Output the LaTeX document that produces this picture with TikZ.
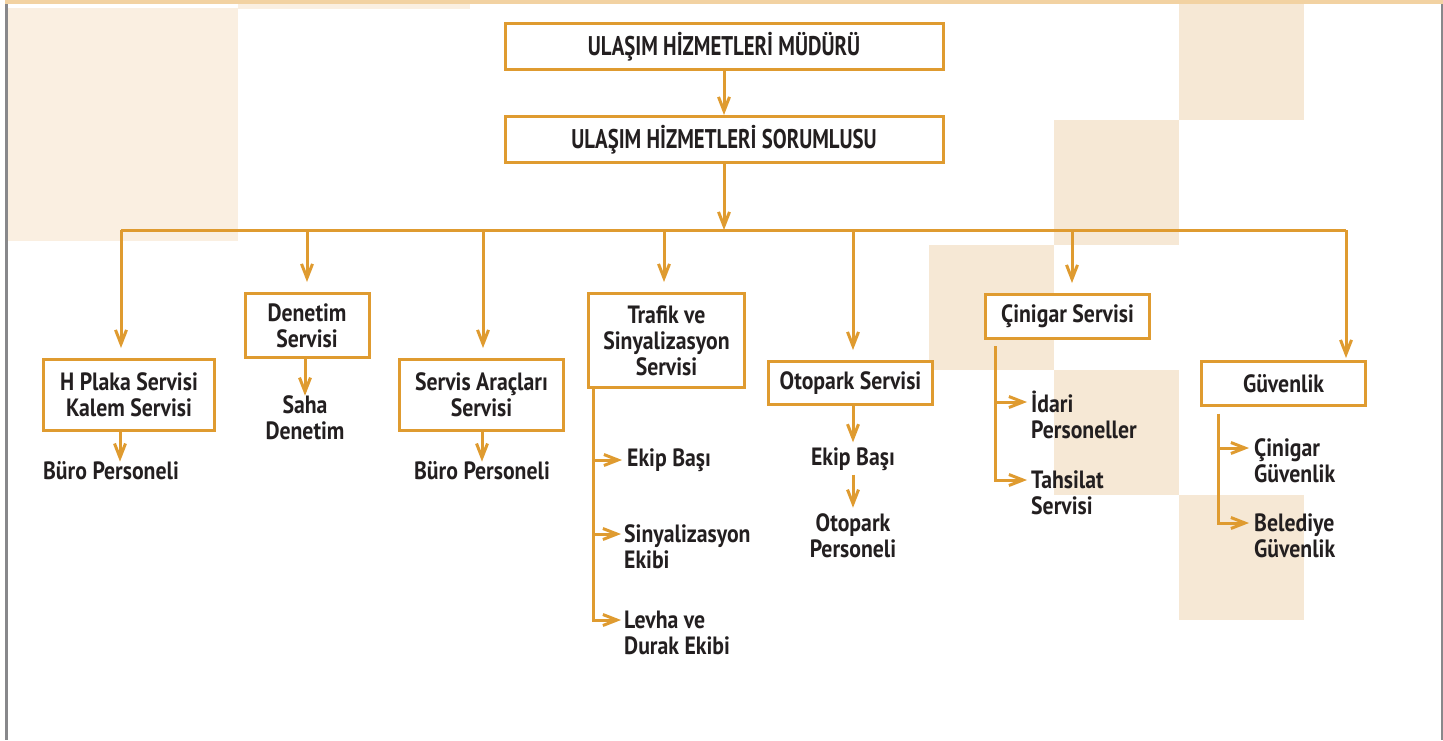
\documentclass[tikz,border=0pt]{standalone}
\usepackage{xcolor}
\usepackage{tikz}
\usepackage{fontspec}
\newfontfamily\ulfont{PT Sans}[FakeStretch=0.87]
\newfontfamily\ulheadfont{PT Sans}[FakeStretch=0.77]
\usetikzlibrary{
  arrows.meta,
  positioning,
  calc
}
\definecolor{ulLine}{HTML}{DF9B30}
\definecolor{ulInk}{HTML}{231F20}
\definecolor{ulTint}{HTML}{F6E8D5}
\definecolor{ulPale}{HTML}{FAEFE1}
\definecolor{ulBar}{HTML}{F2D2A2}
\definecolor{ulFrame}{HTML}{88888B}
\tikzset{
  ulnode/.style={
    draw=ulLine, line width=3pt, fill=white, inner sep=0pt, align=center,
    text=ulInk, font=\ulfont\bfseries\fontsize{25}{26}\selectfont
  },
  ulhead/.style={ulnode, minimum width=438pt, minimum height=46pt,
    font=\ulheadfont\bfseries\fontsize{27}{28}\selectfont},
  ultext/.style={inner sep=0pt, align=center, text=ulInk,
    font=\ulfont\bfseries\fontsize{25}{26}\selectfont},
  ulleft/.style={ultext, align=left, anchor=west},
  ulflow/.style={-{Straight Barb[length=14pt,width=11pt]}, line width=3pt, draw=ulLine},
  ulline/.style={line width=3pt, draw=ulLine},
  ultint/.style={fill=ulTint},
  ulpale/.style={fill=ulPale}
}

\begin{document}
\begin{tikzpicture}[x=1pt, y=-1pt]
  \useasboundingbox (0,0) rectangle (1443,740);
  % background blocks
  \fill[ulpale] (7.5,8) rectangle (238,241);
  \fill[ulpale] (238,4) rectangle (470,9);
  \fill[ultint] (1179,4) rectangle (1304,120);
  \fill[ultint] (1054,120) rectangle (1179,245);
  \fill[ultint] (929,245) rectangle (1054,370);
  \fill[ultint] (1054,370) rectangle (1179,495);
  \fill[ultint] (1179,495) rectangle (1304,620);
  \fill[ulBar] (5,0) rectangle (1443,4);
  \fill[ulFrame] (5,4) rectangle (7.5,740);
  \fill[ulFrame] (1441,4) rectangle (1443,740);

  % head
  \node[ulhead] (mudur) at (724,46.5) {ULAŞIM HİZMETLERİ MÜDÜRÜ};
  \node[ulhead] (sorumlu) at (724,139.5) {ULAŞIM HİZMETLERİ SORUMLUSU};
  \draw[ulflow] (mudur) -- (sorumlu);

  % services
  \node[ulnode, minimum width=171pt, minimum height=71pt] (plaka) at (129,395) {H Plaka Servisi\\Kalem Servisi};
  \node[ulnode, minimum width=124pt, minimum height=64pt] (denetim) at (307,325.5) {Denetim\\Servisi};
  \node[ulnode, minimum width=164pt, minimum height=71pt] (arac) at (481.5,395) {Servis Araçları\\Servisi};
  \node[ulnode, minimum width=156pt, minimum height=94pt] (trafik) at (666.5,340.5) {Trafik ve\\Sinyalizasyon\\Servisi};
  \node[ulnode, minimum width=164pt, minimum height=43pt] (otopark) at (850.5,383) {Otopark Servisi};
  \node[ulnode, minimum width=164pt, minimum height=44pt] (cinigar) at (1067.5,316.5) {Çinigar Servisi};
  \node[ulnode, minimum width=164pt, minimum height=44pt] (guvenlik) at (1283.5,383.5) {Güvenlik};

  % bus
  \coordinate (d1) at (121,230);
  \coordinate (d2) at (307,230);
  \coordinate (d3) at (483,230);
  \coordinate (d4) at (664,230);
  \coordinate (d5) at (853,230);
  \coordinate (d6) at (1072,230);
  \coordinate (d7) at (1346,230);
  \draw[ulline] (d1) -- (d7);
  \draw[ulflow] (sorumlu.south) -- (sorumlu.south |- d4);
  \draw[ulflow, shorten >=10pt] (d1) -- (d1 |- plaka.north);
  \draw[ulflow, shorten >=10pt] (d2) -- (d2 |- denetim.north);
  \draw[ulflow, shorten >=10pt] (d3) -- (d3 |- arac.north);
  \draw[ulflow, shorten >=10pt] (d4) -- (d4 |- trafik.north);
  \draw[ulflow, shorten >=10pt] (d5) -- (d5 |- otopark.north);
  \draw[ulflow, shorten >=10pt] (d6) -- (d6 |- cinigar.north);
  \draw[ulflow, shorten >=2pt] (d7) -- (d7 |- guvenlik.north);

  % staff under the services
  \node[ultext] (buro1) at (111,471) {Büro Personeli};
  \draw[ulflow] (plaka.south -| 120,0) -- (buro1.north -| 120,0);
  \node[ultext] (saha) at (305,418) {Saha\\Denetim};
  \draw[ulflow] (denetim.south -| saha) -- (saha.north);
  \node[ultext] (buro2) at (482,471) {Büro Personeli};
  \draw[ulflow] (arac.south -| buro2) -- (buro2.north);

  % trafik
  \coordinate (tsp) at ([xshift=6pt]trafik.south west);
  \node[ulleft] (ekip1) at (627,460) {Ekip Başı};
  \node[ulleft] (sinyal) at (624,547) {Sinyalizasyon\\Ekibi};
  \node[ulleft] (levha) at (624,633) {Levha ve\\Durak Ekibi};
  \coordinate (sinyalIn) at ($(sinyal.west)+(0,-13)$);
  \coordinate (levhaIn) at ($(levha.west)+(0,-13)$);
  \draw[ulflow, shorten >=3pt] (tsp) |- (levhaIn);
  \draw[ulflow, shorten >=5pt] (tsp |- ekip1.west) -- (ekip1.west);
  \draw[ulflow, shorten >=3pt] (tsp |- sinyalIn) -- (sinyalIn);

  % otopark
  \node[ultext] (ekip2) at (853,459) {Ekip Başı};
  \node[ultext] (otoper) at (853,536) {Otopark\\Personeli};
  \draw[ulflow, shorten >=5pt] (otopark.south -| ekip2) -- (ekip2.north);
  \draw[ulflow, shorten <=4pt, shorten >=6pt] (ekip2.south) -- (otoper.north);

  % cinigar
  \coordinate (csp) at ([xshift=11.5pt, yshift=-6pt]cinigar.south west);
  \node[ulleft] (idari) at (1031,415) {İdari\\Personeller};
  \node[ulleft] (tahsil) at (1031,493) {Tahsilat\\Servisi};
  \coordinate (idariIn) at ($(idari.west)+(0,-13)$);
  \coordinate (tahsilIn) at ($(tahsil.west)+(0,-13)$);
  \draw[ulflow, shorten >=4pt] (csp) |- (tahsilIn);
  \draw[ulflow, shorten >=4pt] (csp |- idariIn) -- (idariIn);

  % guvenlik
  \coordinate (gsp) at ([xshift=18.5pt, yshift=-6.5pt]guvenlik.south west);
  \node[ulleft] (cgv) at (1254,461) {Çinigar\\Güvenlik};
  \node[ulleft] (bgv) at (1254,536) {Belediye\\Güvenlik};
  \coordinate (cgvIn) at ($(cgv.west)+(0,-13)$);
  \coordinate (bgvIn) at ($(bgv.west)+(0,-13)$);
  \draw[ulflow, shorten >=5pt] (gsp) |- (bgvIn);
  \draw[ulflow, shorten >=5pt] (gsp |- cgvIn) -- (cgvIn);
\end{tikzpicture}
\end{document}
